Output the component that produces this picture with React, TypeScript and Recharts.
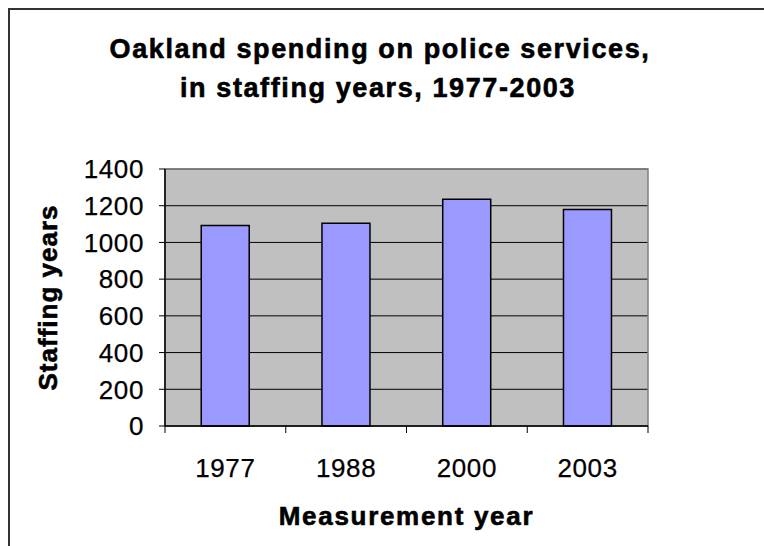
import { BarChart, Bar, XAxis, YAxis, CartesianGrid, ReferenceArea } from 'recharts';

// ─── Data ────────────────────────────────────────────────────────────────────
const years = ['1977', '1988', '2000', '2003'];
const staffing = [1092, 1104, 1235, 1180];
const yTicks = [0, 200, 400, 600, 800, 1000, 1200, 1400];

const data = years.map((year, i) => ({ year, staffing: staffing[i] }));

const FONT = '"Liberation Sans", Arial, Helvetica, sans-serif';

// x ticks: label under each bar, tick marks on the category boundaries
const YearTick = (props: any) => {
  const { x, y, payload, index, visibleTicksCount } = props;
  const half = payload?.offset ?? 60;
  const last = index === (visibleTicksCount ?? years.length) - 1;
  return (
    <g>
      <line x1={x - half} y1={y} x2={x - half} y2={y + 7} stroke="#000" strokeWidth={1} />
      {last && <line x1={x + half} y1={y} x2={x + half} y2={y + 7} stroke="#000" strokeWidth={1} />}
      <text x={x} y={y + 51} textAnchor="middle" fill="#000" stroke="#000" strokeWidth={0.25} fontSize={26} letterSpacing={0.6} fontFamily={FONT}>
        {payload.value}
      </text>
    </g>
  );
};

const XTitle = ({ viewBox }: any) => (
  <text
    x={viewBox.x + viewBox.width / 2}
    y={viewBox.y + 99}
    textAnchor="middle"
    fontSize={26}
    fontWeight="bold"
    letterSpacing={1.7}
    fontFamily={FONT}
    fill="#000"
    stroke="#000"
    strokeWidth={0.6}
  >
    Measurement year
  </text>
);

const YTitle = ({ viewBox }: any) => {
  const cx = 57;
  const cy = viewBox.y + viewBox.height / 2;
  return (
    <text
      x={cx}
      y={cy}
      transform={`rotate(-90, ${cx}, ${cy})`}
      textAnchor="middle"
      fontSize={26}
      fontWeight="bold"
      letterSpacing={1}
      fontFamily={FONT}
      fill="#000"
      stroke="#000"
      strokeWidth={0.6}
    >
      Staffing years
    </text>
  );
};

export default function App() {
  return (
    <div style={{ position: 'absolute', left: 0, top: 0, width: 764, height: 546, background: '#fff', overflow: 'hidden', fontFamily: FONT }}>
      {/* chart frame: only its left and top edges fall inside the picture */}
      <div style={{ position: 'absolute', left: 8, top: 8, width: 2, height: 538, background: '#333' }} />
      <div style={{ position: 'absolute', left: 8, top: 8, width: 756, height: 2, background: '#333' }} />

      <svg width={764} height={130} style={{ position: 'absolute', left: 0, top: 0 }}>
        <g fontSize={27} fontWeight="bold" letterSpacing={1.6} fontFamily={FONT} fill="#000" stroke="#000" strokeWidth={0.6} textAnchor="middle">
          <text x={380} y={58}>Oakland spending on police services,</text>
          <text x={378} y={97}>in staffing years, 1977-2003</text>
        </g>
      </svg>

      <div style={{ position: 'absolute', left: 0, top: 0 }}>
        <BarChart
          width={764}
          height={546}
          data={data}
          margin={{ top: 169, right: 116, left: 85, bottom: 0 }}
          barCategoryGap="30%"
        >
          <CartesianGrid vertical={false} stroke="#000" strokeWidth={1} fill="#C0C0C0" fillOpacity={1} />
          <ReferenceArea y1={0} y2={1400} fill="none" stroke="#808080" strokeWidth={1.5} />
          <XAxis
            dataKey="year"
            height={120}
            axisLine={{ stroke: '#000', strokeWidth: 1.5 }}
            tickLine={false}
            tickSize={0}
            tickMargin={0}
            interval={0}
            tick={<YearTick />}
            label={<XTitle />}
          />
          <YAxis
            width={80}
            domain={[0, 1400]}
            ticks={yTicks}
            interval={0}
            axisLine={{ stroke: '#000', strokeWidth: 1.5 }}
            tickLine={{ stroke: '#000', strokeWidth: 1 }}
            tickSize={6}
            tickMargin={15}
            tick={{ fill: '#000', stroke: '#000', strokeWidth: 0.25, fontSize: 26, letterSpacing: 0.6, fontFamily: FONT }}
            label={<YTitle />}
          />
          <Bar dataKey="staffing" fill="#9999FF" stroke="#000" strokeWidth={1.5} isAnimationActive={false} />
        </BarChart>
      </div>
    </div>
  );
}
